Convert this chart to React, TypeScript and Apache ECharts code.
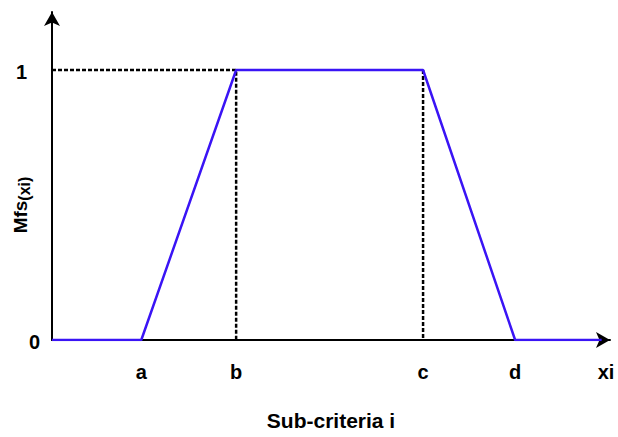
import React, { useEffect, useRef } from "react";
import * as echarts from "echarts";

// x positions of the trapezoid break points (arbitrary axis units, axis spans 0..100)
const xBreaks = [0, 16, 33, 66.5, 83, 98.5];
const membership = [0, 0, 1, 1, 0, 0];
const xTickValues = [16, 33, 66.5, 83, 99.3];
const xTickLabels = ["a", "b", "c", "d", "xi"];
const yTickValues = [0, 1];
const dashedLeft = [[0, 1], [33, 1], [33, 0]];
const dashedRight = [[66.5, 1], [66.5, 0]];

const FONT = "'Liberation Sans', Arial, sans-serif";

export default function App() {
  const ref = useRef<HTMLDivElement>(null);
  useEffect(() => {
    if (!ref.current) return;
    const chart = echarts.init(ref.current, undefined, { renderer: "svg" });
    const mainData = xBreaks.map((x, i) => [x, membership[i]]);
    chart.setOption({
      animation: false,
      backgroundColor: "#ffffff",
      grid: { left: 52, right: 8, top: 12, bottom: 97, containLabel: false, outerBoundsMode: "none" },
      xAxis: {
        type: "value",
        min: 0,
        max: 100,
        name: "Sub-criteria i",
        nameLocation: "middle",
        nameGap: 70,
        nameMoveOverlap: false,
        nameTextStyle: { fontFamily: FONT, fontWeight: "bold", fontSize: 21, color: "#000" },
        axisLine: {
          show: true,
          onZero: false,
          symbol: ["none", "arrow"],
          symbolSize: [12, 14],
          lineStyle: { color: "#000", width: 2 },
        },
        axisTick: { show: false },
        splitLine: { show: false },
        axisLabel: {
          customValues: xTickValues,
          margin: 22,
          fontFamily: FONT,
          fontWeight: "bold",
          fontSize: 20,
          color: "#000",
          formatter: (v: number) => {
            const i = xTickValues.indexOf(v);
            return i >= 0 ? xTickLabels[i] : "";
          },
        },
      },
      yAxis: {
        type: "value",
        min: 0,
        max: 1.2148,
        name: "{m|Mfs}{s|(xi)}",
        nameLocation: "middle",
        nameRotate: 90,
        nameGap: 21,
        nameMoveOverlap: false,
        nameTextStyle: {
          padding: [0, 58, 0, 0],
          rich: {
            m: { fontFamily: FONT, fontWeight: "bold", fontSize: 19, color: "#000", lineHeight: 22 },
            s: { fontFamily: FONT, fontWeight: "bold", fontSize: 16, color: "#000", lineHeight: 22, padding: [8, 0, 0, 0] },
          },
        },
        axisLine: {
          show: true,
          onZero: false,
          symbol: ["none", "arrow"],
          symbolSize: [12, 14],
          lineStyle: { color: "#000", width: 2 },
        },
        axisTick: { show: false },
        splitLine: { show: false },
        axisLabel: {
          customValues: yTickValues,
          margin: 12,
          formatter: (v: number) => (v === 1 ? "{one|1}" : v === 0 ? "{zero|0}" : ""),
          rich: {
            one: { fontFamily: FONT, fontWeight: "bold", fontSize: 20, color: "#000", padding: [4, 13, 0, 0] },
            zero: { fontFamily: FONT, fontWeight: "bold", fontSize: 20, color: "#000", padding: [3, 0, 0, 0] },
          },
        },
      },
      series: [
        {
          type: "line",
          data: dashedLeft,
          symbol: "none",
          lineStyle: { color: "#000", width: 2.5, type: [4, 2] },
          z: 2,
        },
        {
          type: "line",
          data: dashedRight,
          symbol: "none",
          lineStyle: { color: "#000", width: 2.5, type: [4, 2] },
          z: 2,
        },
        {
          type: "line",
          data: mainData,
          symbol: "none",
          lineStyle: { color: "#3a14f5", width: 2.5 },
          z: 3,
        },
      ],
    });
    return () => chart.dispose();
  }, []);
  return (
    <div
      ref={ref}
      style={{ position: "fixed", left: 0, top: 0, width: 618, height: 437, background: "#fff" }}
    />
  );
}
